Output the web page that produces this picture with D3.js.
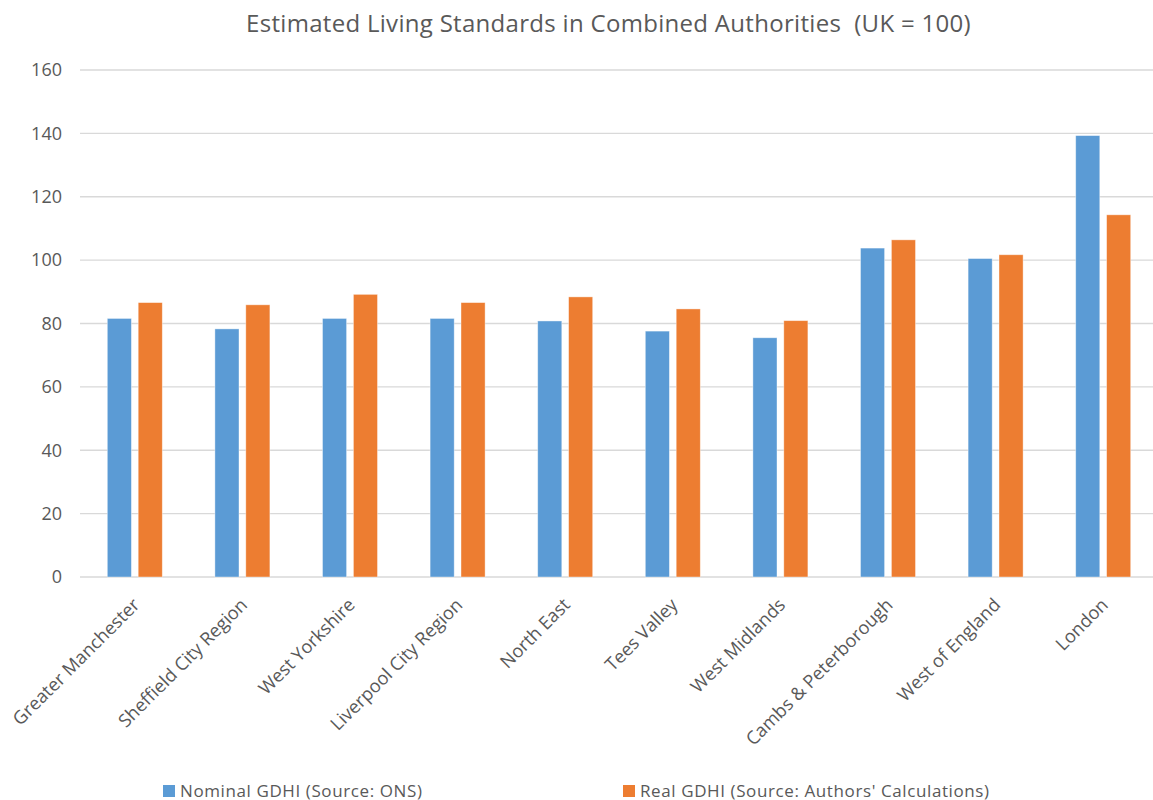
<!DOCTYPE html>
<html><head><meta charset="utf-8">
<script src="https://cdn.jsdelivr.net/npm/d3@7"></script>
<style>
html,body{margin:0;padding:0;background:#fff;}
text{font-family:"Open Sans",sans-serif;fill:#595959;}
</style></head>
<body><svg id="c" width="1153" height="800"></svg>
<script>
const categories = ["Greater Manchester","Sheffield City Region","West Yorkshire","Liverpool City Region","North East","Tees Valley","West Midlands","Cambs & Peterborough","West of England","London"];
const nominal = [81.6, 78.3, 81.6, 81.6, 80.8, 77.6, 75.5, 103.8, 100.5, 139.3];
const real = [86.6, 85.9, 89.2, 86.6, 88.4, 84.6, 80.9, 106.4, 101.7, 114.3];
const seriesNames = ["Nominal GDHI (Source: ONS)", "Real GDHI (Source: Authors' Calculations)"];
const yTicks = [0,20,40,60,80,100,120,140,160];
const title = "Estimated Living Standards in Combined Authorities  (UK = 100)";

const colors = ["#5B9BD5", "#ED7D31"];
const svg = d3.select("#c");
const mLeft = 81, mRight = 1157, mTop = 70, mBottom = 577;

const x = d3.scaleBand().domain(categories).range([mLeft, mRight]).paddingInner(0).paddingOuter(0);
const x1 = d3.scaleBand().domain([0,1]).range([0, 55]).paddingInner(0.22);
const y = d3.scaleLinear().domain([0,160]).range([mBottom, mTop]);

// gridlines
svg.append("g").selectAll("line").data(yTicks).join("line")
  .attr("x1", 80).attr("x2", 1153)
  .attr("y1", d => y(d)).attr("y2", d => y(d))
  .attr("stroke", "#d9d9d9").attr("stroke-width", 1.3);

// y axis labels
const yAxis = d3.axisLeft(y).tickValues(yTicks).tickSize(0).tickPadding(0);
const ya = svg.append("g").attr("transform", "translate(62,0)").call(yAxis);
ya.select(".domain").remove();
ya.selectAll("text").style("font-size", "18px").attr("fill", "#595959").style("font-family", "'Open Sans',sans-serif");

// bars
const data = categories.map((c,i) => ({c, v:[nominal[i], real[i]]}));
const groupOffset = (x.bandwidth() - 55) / 2;
const g = svg.append("g").selectAll("g").data(data).join("g")
  .attr("transform", d => `translate(${x(d.c) + groupOffset},0)`);
g.selectAll("rect").data(d => d.v.map((v,k) => ({v,k}))).join("rect")
  .attr("x", d => x1(d.k)).attr("width", x1.bandwidth())
  .attr("y", d => y(d.v)).attr("height", d => y(0) - y(d.v))
  .attr("fill", d => colors[d.k])
  .attr("stroke", "#fff").attr("stroke-opacity", 0.5).attr("stroke-width", 0.8);

// x labels
const xAxis = d3.axisBottom(x).tickSize(0);
const xa = svg.append("g").attr("transform", `translate(0,${mBottom})`).call(xAxis);
xa.select(".domain").remove();
xa.selectAll("text")
  .style("font-size", "18.2px").style("font-family", "'Open Sans',sans-serif").attr("fill", "#595959")
  .attr("text-anchor", "end")
  .attr("dy", 0).attr("y", 0)
  .attr("transform", "translate(6,29) rotate(-45)");

// title
svg.append("text").attr("x", 608.5).attr("y", 32).attr("text-anchor", "middle")
  .style("font-size", "24px").style("letter-spacing", "0.3px").style("white-space", "pre")
  .text(title);

// legend
const legX = [163, 623];
const lg = svg.append("g").selectAll("g").data(seriesNames).join("g")
  .attr("transform", (d,i) => `translate(${legX[i]},785)`);
lg.append("rect").attr("width", 12).attr("height", 12).attr("fill", (d,i) => colors[i]);
lg.append("text").attr("x", 17).attr("y", 11.5).style("font-size", "17px").style("letter-spacing", "0.6px").text(d => d);
</script></body></html>
